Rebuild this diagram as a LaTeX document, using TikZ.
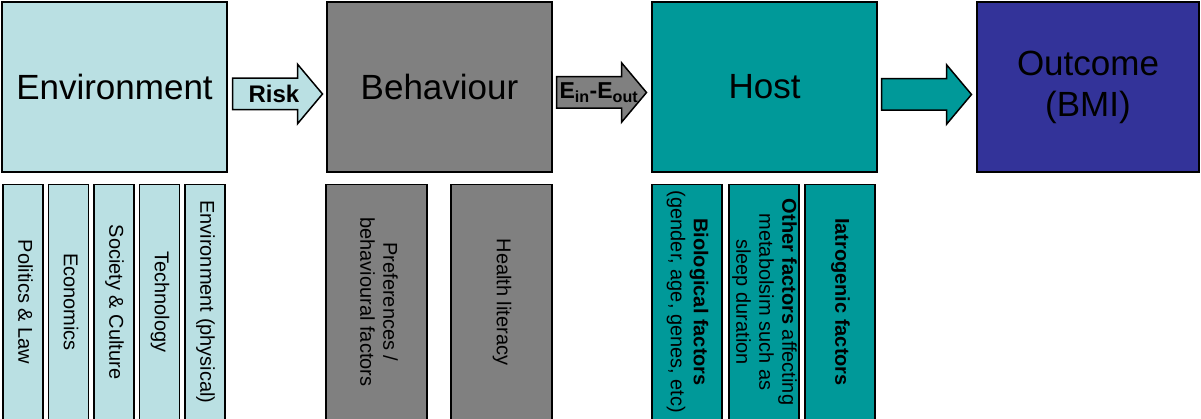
\documentclass[tikz,border=0pt]{standalone}
\usepackage{fontspec}
\setmainfont{Liberation Sans}
\usepackage{graphicx}
\usetikzlibrary{shapes.arrows, positioning, calc}
\definecolor{envcol}{RGB}{186,224,227}
\definecolor{behcol}{RGB}{128,128,128}
\definecolor{hostcol}{RGB}{0,153,153}
\definecolor{outcol}{RGB}{51,51,153}
\tikzstyle{mainbox} = [rectangle, draw=black, line width=1.5pt, minimum
width=225pt, minimum height=170pt, inner sep=0pt, align=center,
font=\fontsize{35}{41}\selectfont]
\tikzstyle{subbox} = [rectangle, draw=black, line width=1.5pt, minimum
height=235pt, inner sep=0pt, text centered, font=\fontsize{20}{23}\selectfont]
\tikzstyle{envsub} = [subbox, minimum width=40pt, fill=envcol]
\tikzstyle{behsub} = [subbox, minimum width=101pt, fill=behcol]
\tikzstyle{hostsub} = [subbox, minimum width=70pt, fill=hostcol]
\tikzstyle{flow} = [single arrow, draw=black, line width=1.5pt, minimum
height=90pt, single arrow head extend=14pt, single arrow tip angle=100,
text height=16pt, text depth=5pt, inner ysep=4.5pt, inner xsep=0pt,
anchor=tail]
\tikzstyle{flowtext} = [inner sep=0pt, font=\bfseries\fontsize{24}{26}\selectfont]
\newcommand{\sidetext}[1]{\rotatebox{-90}{\begin{tabular}{@{}c@{}}#1\end{tabular}}}

\begin{document}
\begin{tikzpicture}[x=1pt, y=1pt]
  \useasboundingbox (0,0) rectangle (1201,-419);
  % Main blocks
  \node (env) [mainbox, fill=envcol] at (114.5,-87) {Environment};
  \node (behav) [mainbox, fill=behcol, right=98.5pt of env] {Behaviour};
  \node (host) [mainbox, fill=hostcol, right=98.5pt of behav] {Host};
  \node (outcome) [mainbox, fill=outcol, minimum width=222pt,
                   right=98.5pt of host] {Outcome\\(BMI)};
  % Arrows between the blocks
  \node (risk) [flow, fill=envcol] at ($(env.east)+(4,-7)$) {};
  \node [flowtext] at ($(risk.tail)!0.46!(risk.tip)$) {Risk};
  \node (energy) [flow, fill=behcol] at ($(behav.east)+(3,-5.5)$) {};
  \node [flowtext, font=\bfseries\fontsize{23}{25}\selectfont]
        at ($(energy.tail)!0.47!(energy.tip)$)
        {E\textsubscript{in}-E\textsubscript{out}};
  \node (toout) [flow, fill=hostcol] at ($(host.east)+(3,-7.5)$) {};
  % Environment factors
  \node (politics) [envsub, below right=11pt and 1pt of env.south west]
                   {\sidetext{Politics \& Law}};
  \node (econ) [envsub, right=4pt of politics] {\sidetext{Economics}};
  \node (society) [envsub, right=4pt of econ] {\sidetext{Society \& Culture}};
  \node (tech) [envsub, right=4pt of society] {\sidetext{Technology}};
  \node (physenv) [envsub, right=4pt of tech]
                  {\sidetext{Environment (physical)}};
  % Behaviour factors
  \node (pref) [behsub, below right=11pt and -1pt of behav.south west]
               {\sidetext{Preferences /\\behavioural factors}};
  \node (literacy) [behsub, right=22.5pt of pref] {\sidetext{Health literacy}};
  % Host factors
  \node (bio) [hostsub, below right=11pt and 0pt of host.south west]
              {\sidetext{\textbf{Biological factors}\\(gender, age, genes, etc)}};
  \node (other) [hostsub, right=5.5pt of bio]
                {\sidetext{\textbf{Other factors} affecting\\metabolsim such as\\sleep duration}};
  \node (iatro) [hostsub, right=4.5pt of other]
                {\sidetext{\textbf{Iatrogenic factors}}};
\end{tikzpicture}
\end{document}
